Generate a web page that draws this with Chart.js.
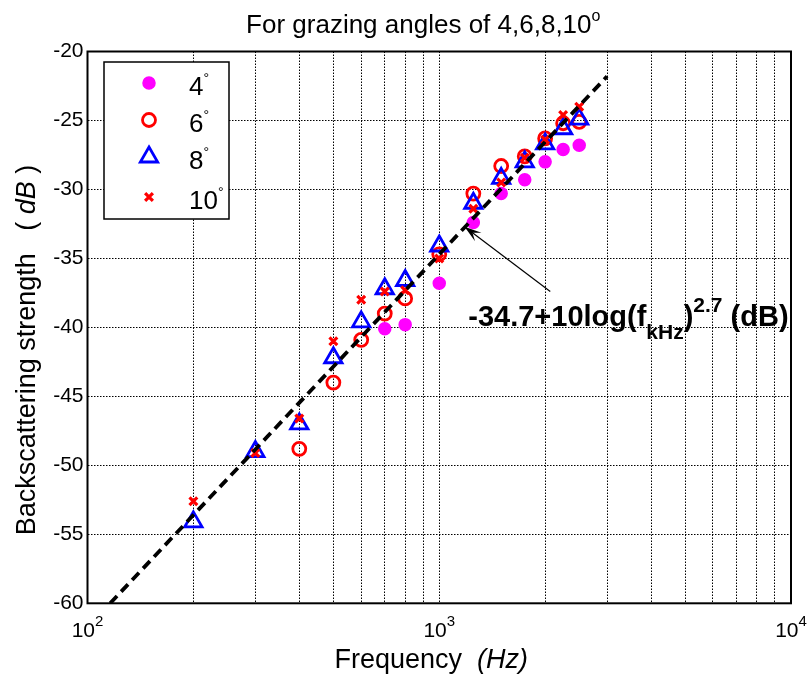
<!DOCTYPE html>
<html><head><meta charset="utf-8">
<script src="https://cdn.jsdelivr.net/npm/chart.js@4.4.1/dist/chart.umd.min.js"></script>
<style>html,body{margin:0;padding:0;background:#fff}#wrap{width:809px;height:679px;position:relative}</style>
</head><body><div id="wrap"><canvas id="c" width="809" height="679"></canvas></div>
<script>
// ---------- data ----------
const freqs4 = [700, 800, 1000, 1250, 1500, 1750, 2000, 2250, 2500];
const bs4    = [-40.1, -39.8, -36.8, -32.4, -30.3, -29.3, -28.0, -27.1, -26.8];
const freqs6 = [400, 500, 600, 700, 800, 1000, 1250, 1500, 1750, 2000, 2250, 2500];
const bs6    = [-48.8, -44.0, -40.9, -39.0, -37.9, -34.7, -30.3, -28.3, -27.6, -26.3, -25.2, -25.1];
const freqs8 = [200, 300, 400, 500, 600, 700, 800, 1000, 1250, 1500, 1750, 2000, 2250, 2500];
const bs8    = [-54.1, -49.0, -47.0, -42.2, -39.6, -37.2, -36.6, -34.1, -31.0, -29.2, -28.0, -26.7, -25.6, -24.9];
const freqs10 = [200, 300, 400, 500, 600, 700, 800, 1000, 1250, 1500, 1750, 2000, 2250, 2500];
const bs10    = [-52.6, -49.1, -46.6, -41.0, -38.0, -37.4, -37.3, -35.0, -31.4, -29.5, -27.7, -26.4, -24.6, -24.0];
const fitFreq = [116, 3000];
const fitDb   = [-60, -21.8];
const seriesLabels = ['4', '6', '8', '10'];
const xGridTicks = [100,200,300,400,500,600,700,800,900,1000,2000,3000,4000,5000,6000,7000,8000,9000,10000];
const xDecadeTicks = [100, 1000, 10000];
const xDecadeExp = ['2', '3', '4'];
const yTicks = [-60, -55, -50, -45, -40, -35, -30, -25, -20];
const titleMain = 'For grazing angles of 4,6,8,10';
const titleSup = 'o';
const fitLabelParts = ['-34.7+10log(f', 'kHz', ')', '2.7', ' (dB)'];
// annotation anchors (data coords)
const arrowTip = {f: 1180, db: -32.7};
const arrowTail = {f: 2068, db: -37.4};
const labelAt = {f: 1209, db: -39.9};

const FF = "'Liberation Sans', Arial, Helvetica, sans-serif";
const pts = (fs, vs) => fs.map((f, i) => ({x: f, y: vs[i]}));

function drawRich(ctx, parts, x, y, align) {
  let w = 0;
  parts.forEach(p => { ctx.font = p.font; p.w = ctx.measureText(p.t).width; w += p.w; });
  let cx = align === 'center' ? x - w / 2 : (align === 'right' ? x - w : x);
  ctx.textAlign = 'left'; ctx.textBaseline = 'alphabetic';
  parts.forEach(p => { ctx.font = p.font; ctx.fillText(p.t, cx, y + (p.dy || 0)); cx += p.w; });
  return w;
}

const decor = {
  id: 'decor',
  afterDraw(chart) {
    const {ctx, chartArea: a, scales: {x, y}} = chart;
    ctx.save();
    ctx.setLineDash([]);
    ctx.strokeStyle = '#000'; ctx.lineWidth = 2;
    ctx.strokeRect(a.left, a.top, a.right - a.left, a.bottom - a.top);
    ctx.fillStyle = '#000';
    // title
    const cxm = (a.left + a.right) / 2;
    drawRich(ctx, [{t: titleMain, font: '26px ' + FF}, {t: titleSup, font: '16px ' + FF, dy: -12}], cxm - 16, 33, 'center');
    // x tick labels
    xDecadeTicks.forEach((v, i) => {
      const px = x.getPixelForValue(v);
      drawRich(ctx, [{t: '10', font: '21px ' + FF}, {t: xDecadeExp[i], font: '15px ' + FF, dy: -11}], px, 637, 'center');
    });
    // x title
    drawRich(ctx, [{t: 'Frequency  ', font: '27px ' + FF}, {t: '(Hz)', font: 'italic 27px ' + FF}], cxm - 8, 668, 'center');
    // y title
    ctx.save();
    ctx.translate(35, 350);
    ctx.rotate(-Math.PI / 2);
    drawRich(ctx, [{t: 'Backscattering strength   ( ', font: '27px ' + FF}, {t: 'dB', font: 'italic 27px ' + FF}, {t: ' )', font: '27px ' + FF}], 0, 0, 'center');
    ctx.restore();
    // legend
    const lx = 104, ly = 62, lw = 125, lh = 157;
    ctx.fillStyle = '#fff'; ctx.fillRect(lx, ly, lw, lh);
    ctx.strokeStyle = '#000'; ctx.lineWidth = 1.5; ctx.strokeRect(lx, ly, lw, lh);
    const rows = [83, 120, 157, 197];
    chart.data.datasets.slice(0, 4).forEach((ds, i) => {
      ctx.save();
      ctx.fillStyle = ds.pointBackgroundColor; ctx.strokeStyle = ds.pointBorderColor; ctx.lineWidth = ds.pointBorderWidth;
      Chart.helpers.drawPoint(ctx, {pointStyle: ds.pointStyle, radius: ds.pointRadius, rotation: 0, borderWidth: ds.pointBorderWidth}, 149, rows[i]);
      ctx.restore();
      ctx.fillStyle = '#000';
      drawRich(ctx, [{t: seriesLabels[i], font: '26px ' + FF}, {t: '°', font: '14px ' + FF, dy: -12}], 189, rows[i] + 12, 'left');
    });
    // annotation arrow
    const tx = x.getPixelForValue(arrowTip.f), ty = y.getPixelForValue(arrowTip.db);
    const sx = x.getPixelForValue(arrowTail.f), sy = y.getPixelForValue(arrowTail.db);
    ctx.strokeStyle = '#000'; ctx.lineWidth = 1.2;
    ctx.beginPath(); ctx.moveTo(sx, sy); ctx.lineTo(tx, ty); ctx.stroke();
    const ang = Math.atan2(sy - ty, sx - tx);
    const L = 18, W = 0.3;
    ctx.fillStyle = '#000';
    ctx.beginPath();
    ctx.moveTo(tx, ty);
    ctx.lineTo(tx + L * Math.cos(ang + W), ty + L * Math.sin(ang + W));
    ctx.lineTo(tx + L * 0.55 * Math.cos(ang), ty + L * 0.55 * Math.sin(ang));
    ctx.lineTo(tx + L * Math.cos(ang - W), ty + L * Math.sin(ang - W));
    ctx.closePath(); ctx.fill();
    // annotation text
    const bx = x.getPixelForValue(labelAt.f), by = y.getPixelForValue(labelAt.db);
    drawRich(ctx, [
      {t: fitLabelParts[0], font: 'bold 29px ' + FF},
      {t: fitLabelParts[1], font: 'bold 21px ' + FF, dy: 13},
      {t: fitLabelParts[2], font: 'bold 29px ' + FF},
      {t: fitLabelParts[3], font: 'bold 21px ' + FF, dy: -14},
      {t: fitLabelParts[4], font: 'bold 29px ' + FF}
    ], bx, by, 'left');
    ctx.restore();
  }
};

const gridOpts = {color: '#000', lineWidth: 1, drawTicks: false};
new Chart(document.getElementById('c'), {
  type: 'scatter',
  data: {
    datasets: [
      {label: '4', data: pts(freqs4, bs4), pointStyle: 'circle', pointRadius: 6, pointBackgroundColor: '#FF00FF', pointBorderColor: '#FF00FF', pointBorderWidth: 1.5, order: 4},
      {label: '6', data: pts(freqs6, bs6), pointStyle: 'circle', pointRadius: 6.5, pointBackgroundColor: 'rgba(0,0,0,0)', pointBorderColor: '#FF0000', pointBorderWidth: 2.8, order: 3},
      {label: '8', data: pts(freqs8, bs8), pointStyle: 'triangle', pointRadius: 10, pointBackgroundColor: 'rgba(0,0,0,0)', pointBorderColor: '#0000FF', pointBorderWidth: 2.8, order: 2},
      {label: '10', data: pts(freqs10, bs10), pointStyle: 'crossRot', pointRadius: 5.5, pointBackgroundColor: '#FF0000', pointBorderColor: '#FF0000', pointBorderWidth: 3.2, order: 1},
      {label: 'fit', data: pts(fitFreq, fitDb), showLine: true, pointRadius: 0, borderColor: '#000', borderWidth: 3.8, borderDash: [10, 6], fill: false, order: 0}
    ]
  },
  options: {
    responsive: false, animation: false, devicePixelRatio: 1,
    layout: {padding: {top: 51.5, right: 18, left: 0, bottom: 0}},
    plugins: {legend: {display: false}, tooltip: {enabled: false}, title: {display: false}},
    scales: {
      x: {
        type: 'logarithmic', min: 100, max: 10000,
        afterBuildTicks: s => { s.ticks = xGridTicks.map(v => ({value: v})); },
        afterFit: s => { s.height = 75.7; },
        ticks: {display: false, autoSkip: false},
        grid: gridOpts,
        border: {display: false, dash: [1.5, 1.5]}
      },
      y: {
        type: 'linear', min: -60, max: -20,
        afterBuildTicks: s => { s.ticks = yTicks.map(v => ({value: v})); },
        afterFit: s => { s.width = 87.5; },
        ticks: {color: '#000', font: {family: FF, size: 21}, padding: 4},
        grid: gridOpts,
        border: {display: false, dash: [1.5, 1.5]}
      }
    }
  },
  plugins: [decor]
});
</script></body></html>
